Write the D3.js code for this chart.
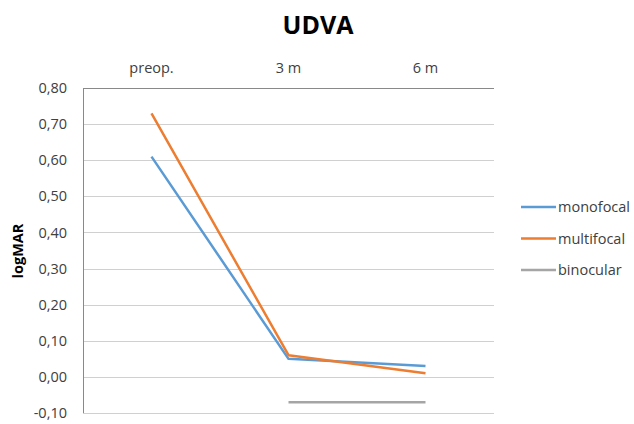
<!DOCTYPE html>
<html>
<head>
<meta charset="utf-8">
<script src="https://cdn.jsdelivr.net/npm/d3@7"></script>
<style>
  body { margin: 0; background: #fff; }
  text { font-family: "Open Sans", "Liberation Sans", sans-serif; }
</style>
</head>
<body>
<svg id="chart"></svg>
<script>
// Chart data
const categories = ["preop.", "3 m", "6 m"];
const monofocal = [0.61, 0.05, 0.03];
const multifocal = [0.73, 0.06, 0.01];
const binocular = [null, -0.07, -0.07];
const seriesNames = ["monofocal", "multifocal", "binocular"];
const yTicks = [0.8, 0.7, 0.6, 0.5, 0.4, 0.3, 0.2, 0.1, 0, -0.1];

const width = 634;
const height = 424;
const margin = { top: 88, right: 140, bottom: 11, left: 83 };

const svg = d3.select("#chart")
    .attr("width", width)
    .attr("height", height);

const colors = d3.scaleOrdinal()
    .domain(seriesNames)
    .range(["#5B9BD5", "#ED7D31", "#A5A5A5"]);

const x = d3.scaleBand()
    .domain(categories)
    .range([margin.left, width - margin.right]);

const y = d3.scaleLinear()
    .domain([-0.1, 0.8])
    .range([height - margin.bottom, margin.top]);

const fmt = d => d3.format(".2f")(d).replace(".", ",").replace("−", "-");

// Gridlines (top one is the category axis)
svg.append("g")
    .selectAll("line")
    .data(yTicks)
    .join("line")
    .attr("x1", margin.left)
    .attr("x2", width - margin.right)
    .attr("y1", d => Math.round(y(d)) + 0.5)
    .attr("y2", d => Math.round(y(d)) + 0.5)
    .attr("stroke", d => d === 0.8 ? "#898989" : "#d0d0d0")
    .attr("stroke-width", 1);

// Vertical axis line
svg.append("line")
    .attr("x1", margin.left + 0.5)
    .attr("x2", margin.left + 0.5)
    .attr("y1", y(0.8))
    .attr("y2", y(-0.1))
    .attr("stroke", "#898989");

// Y tick labels
svg.append("g")
    .selectAll("text")
    .data(yTicks)
    .join("text")
    .attr("x", margin.left - 16)
    .attr("y", d => y(d))
    .attr("dy", "0.35em")
    .attr("text-anchor", "end")
    .attr("font-size", 14.5)
    .attr("fill", "#404040")
    .text(fmt);

// Category labels on top
svg.append("g")
    .selectAll("text")
    .data(categories)
    .join("text")
    .attr("x", d => x(d) + x.bandwidth() / 2)
    .attr("y", 73)
    .attr("text-anchor", "middle")
    .attr("font-size", 14.5)
    .attr("fill", "#404040")
    .text(d => d);

// Title
svg.append("text")
    .attr("x", 318)
    .attr("y", 34)
    .attr("text-anchor", "middle")
    .attr("font-size", 25)
    .attr("font-weight", "bold")
    .attr("fill", "#000")
    .text("UDVA");

// Y axis title
svg.append("text")
    .attr("transform", "translate(23, 251) rotate(-90)")
    .attr("text-anchor", "middle")
    .attr("font-size", 14.5)
    .attr("font-weight", "bold")
    .attr("fill", "#000")
    .text("logMAR");

// Lines
const line = d3.line()
    .defined(d => d.v !== null)
    .x(d => x(d.c) + x.bandwidth() / 2)
    .y(d => y(d.v));

const series = [monofocal, multifocal, binocular].map((vals, i) => ({
    name: seriesNames[i],
    values: vals.map((v, j) => ({ c: categories[j], v: v }))
}));

svg.append("g")
    .selectAll("path")
    .data(series)
    .join("path")
    .attr("d", d => line(d.values))
    .attr("fill", "none")
    .attr("stroke", d => colors(d.name))
    .attr("stroke-width", 2.5)
    .attr("stroke-linejoin", "round");

// Legend
const legend = svg.append("g")
    .selectAll("g")
    .data(seriesNames)
    .join("g")
    .attr("transform", (d, i) => `translate(521, ${207 + i * 31.5})`);

legend.append("line")
    .attr("x1", 0)
    .attr("x2", 35)
    .attr("stroke", d => colors(d))
    .attr("stroke-width", 2.5);

legend.append("text")
    .attr("x", 37)
    .attr("dy", "0.35em")
    .attr("font-size", 14.5)
    .attr("fill", "#404040")
    .text(d => d);
</script>
</body>
</html>
